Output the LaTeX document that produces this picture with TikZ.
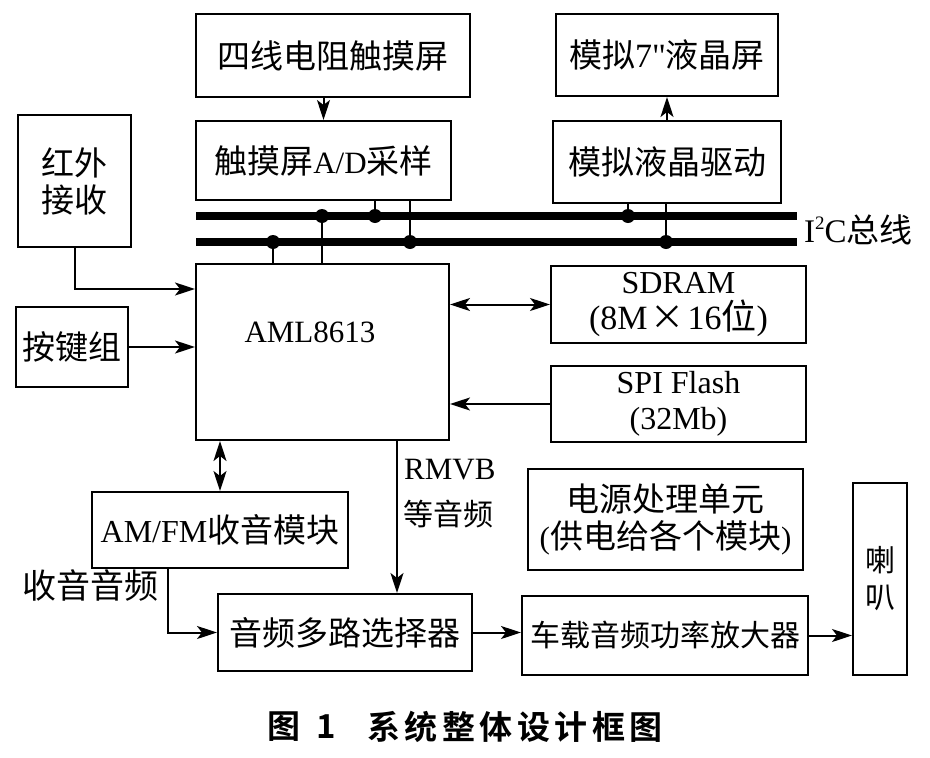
\documentclass[tikz,border=0pt]{standalone}
\usepackage{fontspec}
\setmainfont{Liberation Serif}
\newfontfamily\qfont{Liberation Serif}[Ligatures=TeXOff]
\newfontfamily\cjk{Noto Sans CJK SC}
\newfontfamily\cjkbold{Noto Sans CJK SC Bold}
\usetikzlibrary{arrows.meta}
\newcommand\zh[1]{{\cjk\fontsize{33}{38}\selectfont #1}}
\newcommand\zhs[1]{{\cjk\fontsize{30}{36}\selectfont #1}}
\begin{document}
\begin{tikzpicture}[x=1pt,y=-1pt,
  box/.style={draw,line width=2pt,inner sep=0pt,align=center,font=\fontsize{31}{37}\selectfont},
  lbl/.style={inner sep=0pt,align=left,font=\fontsize{31}{37}\selectfont},
  arr/.style={line width=2pt,-{Stealth[length=20pt,width=13pt,inset=5pt]}},
  darr/.style={line width=2pt,{Stealth[length=20pt,width=13pt,inset=5pt]}-{Stealth[length=20pt,width=13pt,inset=5pt]}},
  wire/.style={line width=2pt},
  bus/.style={line width=8pt},
  dot/.style={circle,fill,inner sep=0pt,minimum size=14pt}]
\useasboundingbox (0,0) rectangle (930,758);

% boxes
\node[box,minimum width=274pt,minimum height=83pt] (touch) at (333,55.5) {\zh{四线电阻触摸屏}};
\node[box,minimum width=255pt,minimum height=79pt] (ad) at (323.5,160.5) {\zh{触摸屏}A/D\zh{采样}};
\node[box,minimum width=222pt,minimum height=82pt] (lcd) at (667,55) {\zh{模拟}{\qfont\fontsize{34}{38}\selectfont 7"}\zh{液晶屏}};
\node[box,minimum width=228pt,minimum height=82pt] (drv) at (667,162) {\zh{模拟液晶驱动}};
\node[box,minimum width=113pt,minimum height=132pt] (ir) at (74.5,181) {\zh{红外}\\\zh{接收}};
\node[box,minimum width=112pt,minimum height=80pt] (key) at (72,347) {\zh{按键组}};
\node[box,minimum width=253pt,minimum height=176pt] (aml) at (322.5,352) {};
\node[lbl] (amltxt) at (310,332) {AML8613};
\node[box,minimum width=255pt,minimum height=77pt,font=\fontsize{32}{36}\selectfont] (sdram) at (678.5,304.5) {SDRAM\\{\fontsize{34}{36}\selectfont(8M\kern3pt{\cjk ×}\kern3pt 16{\cjk\fontsize{35}{36}\selectfont 位})}};
\node[box,minimum width=255pt,minimum height=76pt,font=\fontsize{32}{36}\selectfont] (spi) at (678.5,404) {SPI Flash\\(32Mb)};
\node[box,minimum width=256pt,minimum height=76pt,font=\fontsize{32}{37}\selectfont] (amfm) at (220,530) {AM/FM\zh{收音模块}};
\node[box,minimum width=254pt,minimum height=77pt] (mux) at (345,632.5) {\zh{音频多路选择器}};
\node[box,minimum width=275pt,minimum height=101pt] (pwr) at (665.5,519.5) {\zh{电源处理单元}\\(\zh{供电给各个模块})};
\node[box,minimum width=286pt,minimum height=79pt] (amp) at (665,635.5) {\zhs{车载音频功率放大器}};
\node[box,minimum width=54pt,minimum height=192pt] (spk) at (880,579) {\zhs{喇}\\\zhs{叭}};

% labels
\node[lbl,anchor=west,font=\fontsize{33}{37}\selectfont] (i2c) at (804,230) {I\raisebox{0.4em}{\fontsize{19}{19}\selectfont 2}C\zh{总线}};
\node[lbl] (shouyin) at (91,585) {{\cjk\fontsize{34}{38}\selectfont 收音音频}};
\node[lbl,anchor=west] (rmvb1) at (404,470) {RMVB};
\node[lbl,anchor=west] (rmvb2) at (403,514) {\zhs{等音频}};

% bus
\coordinate (b1L) at (196,216); \coordinate (b1R) at (797,216);
\coordinate (b2L) at (196,242); \coordinate (b2R) at (797,242);
\draw[bus] (b1L) -- (b1R);
\draw[bus] (b2L) -- (b2R);
\coordinate (t1) at (375,216); \coordinate (t2) at (322,216); \coordinate (t3) at (628,216);
\coordinate (u1) at (410,242); \coordinate (u2) at (273,242); \coordinate (u3) at (666,242);
\draw[wire] (ad.south -| t1) -- (t1);
\draw[wire] (ad.south -| u1) -- (u1);
\draw[wire] (aml.north -| t2) -- (t2);
\draw[wire] (aml.north -| u2) -- (u2);
\draw[wire] (drv.south -| t3) -- (t3);
\draw[wire] (drv.south -| u3) -- (u3);
\foreach \p in {t1,t2,t3,u1,u2,u3} \node[dot] at (\p) {};

% connectors
\draw[arr] (touch.south -| ad.north) -- (ad.north);
\draw[arr] (drv.north) -- (lcd.south);
\draw[arr] (ir.south) |- ([yshift=63pt]aml.west);
\draw[arr] (key.east) -- (key.east -| aml.west);
\draw[darr] (aml.east |- sdram.west) -- (sdram.west);
\draw[arr] (spi.west) -- (spi.west -| aml.east);
\draw[darr] (aml.south -| amfm.north) -- (amfm.north);
\draw[arr] ([xshift=-52pt]amfm.south) |- (mux.west);
\draw[arr] ([xshift=74.5pt]aml.south) -- ([xshift=52pt]mux.north);
\draw[arr] (mux.east) -- (mux.east -| amp.west);
\draw[arr] (amp.east) -- (amp.east -| spk.west);

% caption
\node[inner sep=0pt,font=\cjkbold\fontsize{33}{33}\selectfont] (cap1) at (302,727) {图\hspace{16pt}1};
\node[inner sep=0pt,anchor=west,font=\cjkbold\fontsize{33}{33}\selectfont] (cap2) at (367,727) {系\kern4.5pt 统\kern4.5pt 整\kern4.5pt 体\kern4.5pt 设\kern4.5pt 计\kern4.5pt 框\kern4.5pt 图};
\end{tikzpicture}
\end{document}
